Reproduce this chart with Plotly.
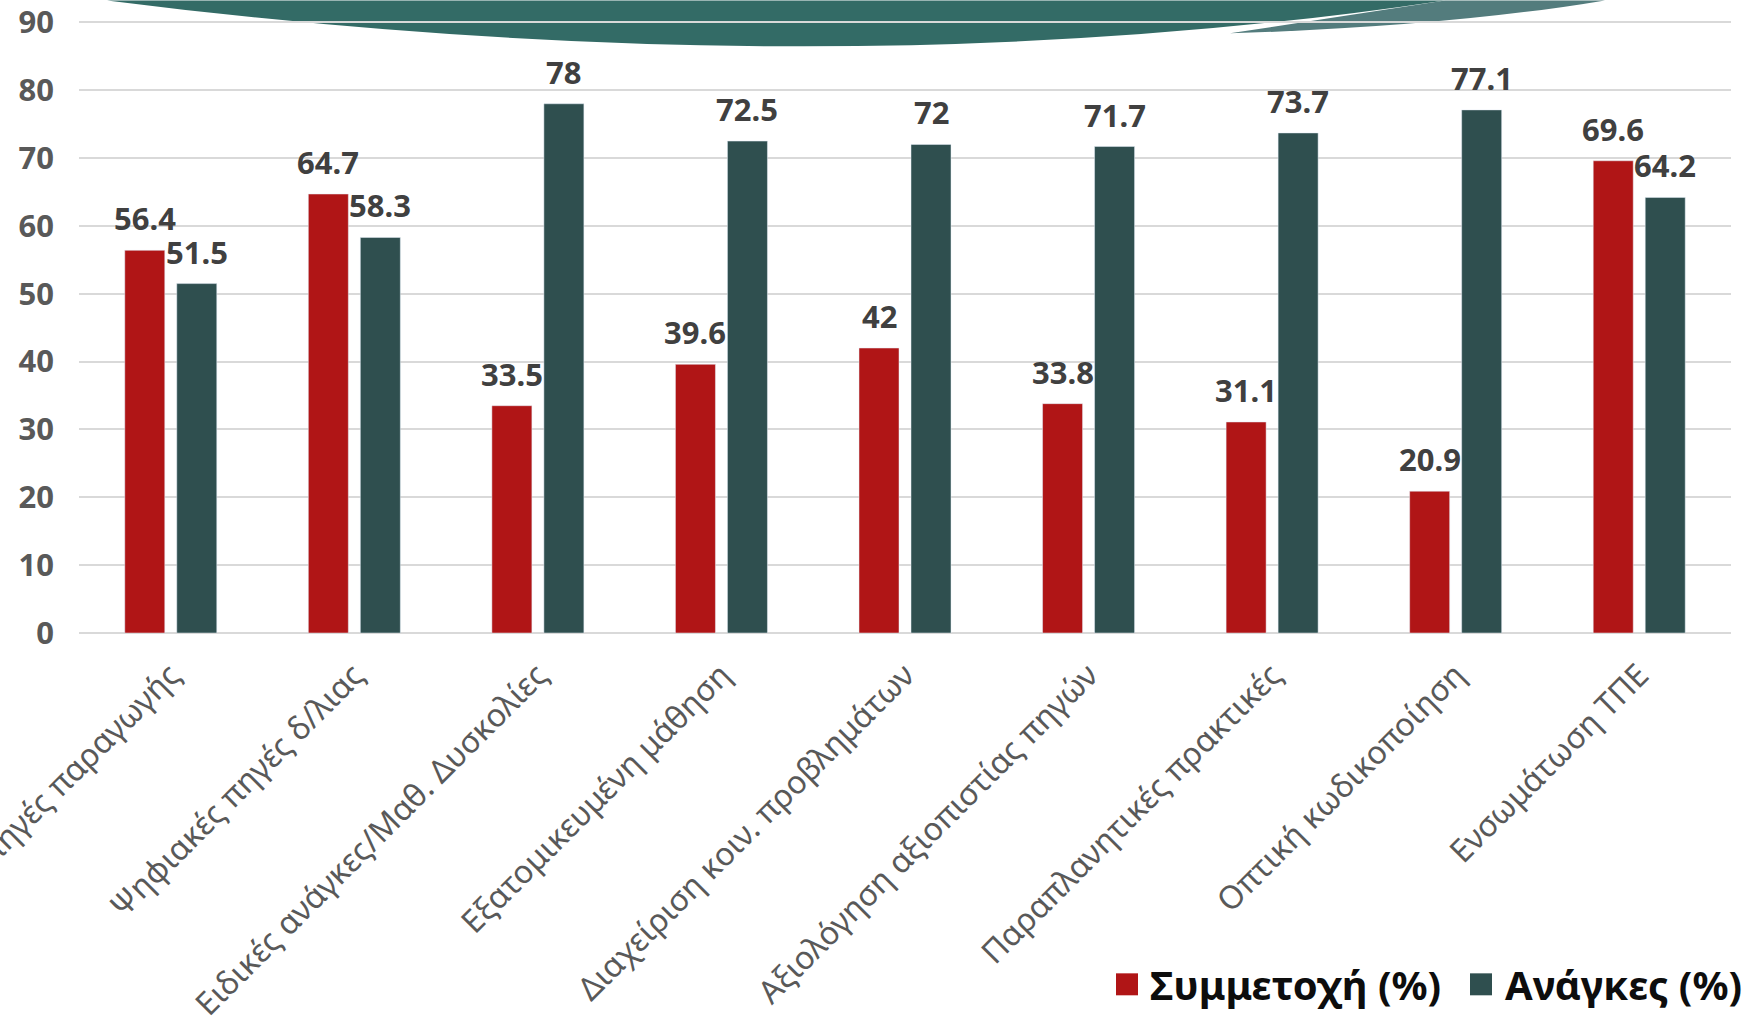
import plotly.graph_objects as go

categories = [
    "Ψηφιακές πηγές παραγωγής",
    "Ψηφιακές πηγές δ/λιας",
    "Ειδικές ανάγκες/Μαθ. Δυσκολίες",
    "Εξατομικευμένη μάθηση",
    "Διαχείριση κοιν. προβλημάτων",
    "Αξιολόγηση αξιοπιστίας πηγών",
    "Παραπλανητικές πρακτικές",
    "Οπτική κωδικοποίηση",
    "Ενσωμάτωση ΤΠΕ",
]
participation = [56.4, 64.7, 33.5, 39.6, 42, 33.8, 31.1, 20.9, 69.6]
needs = [51.5, 58.3, 78, 72.5, 72, 71.7, 73.7, 77.1, 64.2]
series_names = ["Συμμετοχή (%)", "Ανάγκες (%)"]
y_ticks = [0, 10, 20, 30, 40, 50, 60, 70, 80, 90]

RED = "#B01516"
GREEN = "#2F4F4F"
FONT = "Noto Sans"

W_PX, H_PX = 1762, 1035
X0, X1 = 79, 1731
YB = 633.3
PX_PER_UNIT = (633.3 - 22) / 90
Y_MAX = 90.2
YT = YB - Y_MAX * PX_PER_UNIT
PW, PH = X1 - X0, YB - YT


def P(px, py):
    return (px - X0) / PW, (YB - py) / PH


def fmt(v):
    return f"{v:g}"


fig = go.Figure()
cat_px = PW / len(categories)
bar_w = 40 / cat_px
off_red = -46 / cat_px
off_green = 6 / cat_px

fig.add_trace(go.Bar(x=categories, y=participation, name=series_names[0],
                     marker_color=RED, width=bar_w, offset=off_red, showlegend=False))
fig.add_trace(go.Bar(x=categories, y=needs, name=series_names[1],
                     marker_color=GREEN, width=bar_w, offset=off_green, showlegend=False))

annotations = []
for vals, shift in ((participation, -26), (needs, 26)):
    for c, v in zip(categories, vals):
        annotations.append(dict(x=c, y=v, xref="x", yref="y", text=fmt(v), showarrow=False,
                                xanchor="center", yanchor="bottom", xshift=shift, yshift=9,
                                font=dict(family=FONT, size=31, color="#404040", weight="bold")))

# legend (manual, large square markers)
shapes = []
for (sx, tx), col, name in zip([(1116, 1148), (1470, 1503)], [RED, GREEN], series_names):
    a = P(sx, 974)
    b = P(sx + 22, 996)
    shapes.append(dict(type="rect", xref="paper", yref="paper", x0=a[0], y0=b[1], x1=b[0], y1=a[1],
                       fillcolor=col, line=dict(width=0)))
    t = P(tx, 985)
    annotations.append(dict(x=t[0], y=t[1], xref="paper", yref="paper", text=name, showarrow=False,
                            xanchor="left", yanchor="middle",
                            font=dict(family=FONT, size=40, color="#0D0D0D", weight="bold")))


# decorative header waves
def path_q(pts):
    (x0, y0), (cx, cy), (x1, y1) = [P(*p) for p in pts[:3]]
    s = f"M {x0},{y0} Q {cx},{cy} {x1},{y1}"
    for p in pts[3:]:
        q = P(*p)
        s += f" L {q[0]},{q[1]}"
    return s + " Z"


shapes.insert(0, dict(type="path", xref="paper", yref="paper", layer="below",
                      path=path_q([(1605, 0), (1450, 26), (1230, 33), (1445, 0)]),
                      fillcolor="#537c7d", line=dict(width=0)))
shapes.insert(1, dict(type="path", xref="paper", yref="paper", layer="below",
                      path=path_q([(107, 0), (830, 92), (1445, 0)]),
                      fillcolor="#336b66", line=dict(width=0)))

fig.update_layout(
    width=W_PX, height=H_PX,
    margin=dict(l=X0, r=W_PX - X1, t=YT, b=H_PX - YB, autoexpand=False),
    paper_bgcolor="white", plot_bgcolor="rgba(0,0,0,0)",
    barmode="overlay",
    font=dict(family=FONT),
    shapes=shapes,
    annotations=annotations,
    showlegend=False,
)
fig.update_yaxes(range=[0, Y_MAX], tickvals=y_ticks, showgrid=True, gridcolor="#D9D9D9", gridwidth=2,
                 zeroline=True, zerolinecolor="#D9D9D9", zerolinewidth=2,
                 tickfont=dict(family=FONT, size=31, color="#595959", weight="bold"),
                 ticklabelstandoff=24, ticklabeloverflow="allow", fixedrange=True)
fig.update_xaxes(tickangle=-45, showgrid=False, showline=False, automargin=False,
                 tickfont=dict(family=FONT, size=32, color="#595959"),
                 ticklabelstandoff=16, fixedrange=True)

fig.write_html("out.html", config={"displayModeBar": False},
               post_script="document.body.style.margin='0';document.body.style.overflow='hidden';")
